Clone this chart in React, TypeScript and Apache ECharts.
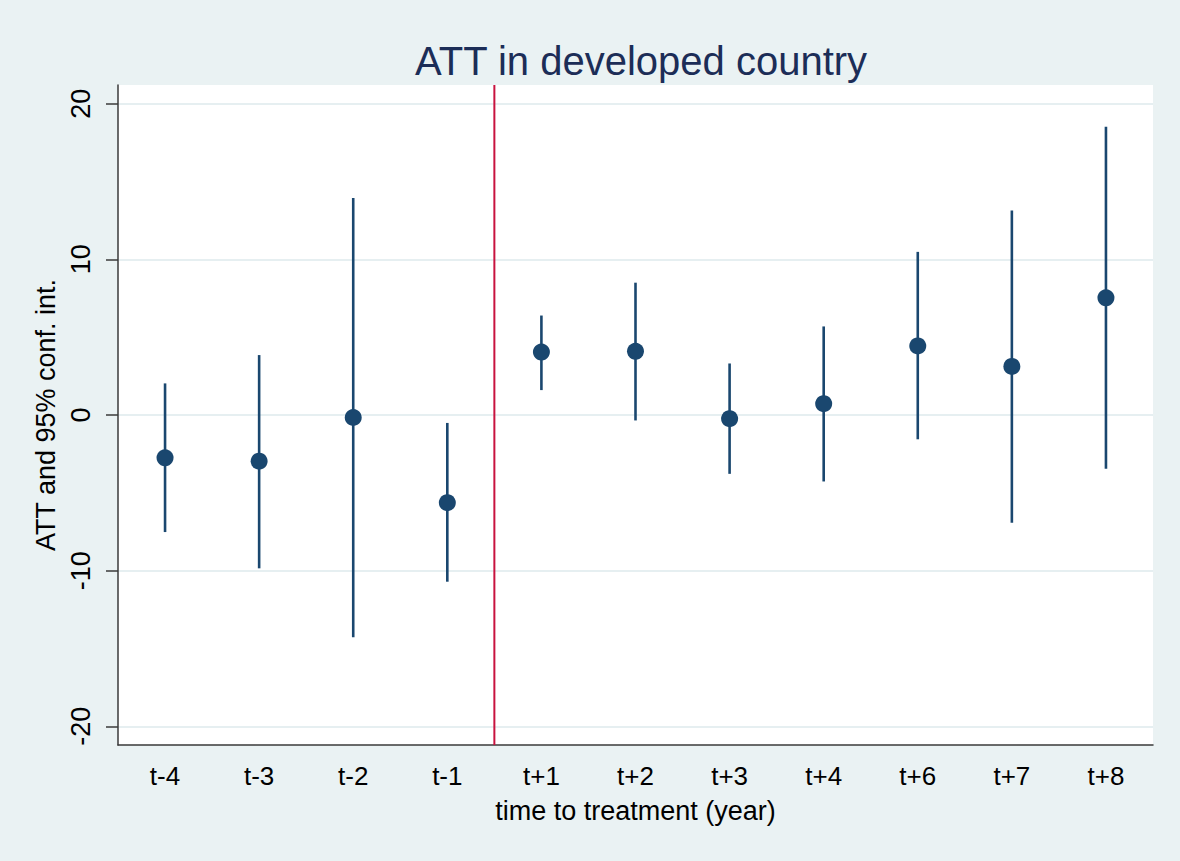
import React, { useEffect, useRef } from "react";
import * as echarts from "echarts";

const categories = ["t-4", "t-3", "t-2", "t-1", "t+1", "t+2", "t+3", "t+4", "t+6", "t+7", "t+8"];
const att = [-2.75, -2.97, -0.16, -5.63, 4.04, 4.09, -0.24, 0.73, 4.44, 3.12, 7.53];
const ciLow = [-7.52, -9.85, -14.28, -10.71, 1.6, -0.35, -3.78, -4.27, -1.56, -6.93, -3.46];
const ciHigh = [2.03, 3.85, 13.94, -0.51, 6.39, 8.5, 3.31, 5.69, 10.48, 13.13, 18.52];
const yTicks = [-20, -10, 0, 10, 20];
const treatmentBetween = ["t-1", "t+1"];

const navy = "#1a476f";
const font = "'Liberation Sans', Arial, Helvetica, sans-serif";

export default function App() {
  const ref = useRef<HTMLDivElement>(null);
  useEffect(() => {
    document.body.style.margin = "0";
    if (!ref.current) return;
    const chart = echarts.init(ref.current, null, { renderer: "svg" });
    const i0 = categories.indexOf(treatmentBetween[0]);
    const i1 = categories.indexOf(treatmentBetween[1]);
    chart.setOption({
      animation: false,
      backgroundColor: "#eaf2f3",
      title: {
        text: "ATT in developed country",
        left: 410,
        top: 36,
        textStyle: { fontFamily: font, fontSize: 40, fontWeight: "normal", color: "#1c2d57" },
      },
      grid: {
        left: 118,
        right: 27,
        top: 85,
        bottom: 116,
        show: true,
        backgroundColor: "#ffffff",
        borderWidth: 0,
      },
      xAxis: {
        type: "category",
        data: categories,
        boundaryGap: true,
        name: "time to treatment (year)",
        nameLocation: "middle",
        nameGap: 52,
        nameTextStyle: { fontFamily: font, fontSize: 27, color: "#000" },
        axisLine: { onZero: false, lineStyle: { color: "#3a3a3a", width: 1.5 } },
        axisTick: { alignWithLabel: true, length: 12, lineStyle: { color: "#3a3a3a", width: 1.5 } },
        axisLabel: { fontFamily: font, fontSize: 26, color: "#000", margin: 18 },
        splitLine: { show: false },
      },
      yAxis: {
        type: "value",
        min: -21.2,
        max: 21.2,
        name: "ATT and 95% conf. int.",
        nameLocation: "middle",
        nameGap: 58,
        nameRotate: 90,
        nameTextStyle: { fontFamily: font, fontSize: 27, color: "#000" },
        axisLine: { show: true, lineStyle: { color: "#3a3a3a", width: 1.5 } },
        axisTick: { show: true, length: 12, customValues: yTicks, lineStyle: { color: "#3a3a3a", width: 1.5 } },
        axisLabel: { fontFamily: font, fontSize: 27, color: "#000", rotate: 90, margin: 24, customValues: yTicks },
        splitLine: { show: true, lineStyle: { color: "#e6eff1", width: 2 } },
      },
      series: [
        {
          type: "custom",
          name: "treatment",
          data: [[i0, i1]],
          encode: { x: [0, 1] },
          clip: false,
          z: 1,
          renderItem: (params: any, api: any) => {
            const a = api.coord([api.value(0), 0])[0];
            const b = api.coord([api.value(1), 0])[0];
            const x = (a + b) / 2;
            const cs = params.coordSys;
            return {
              type: "line",
              shape: { x1: x, y1: cs.y, x2: x, y2: cs.y + cs.height },
              style: { stroke: "#c8133f", lineWidth: 2 },
            };
          },
        },
        {
          type: "custom",
          name: "ci",
          data: categories.map((c, i) => [i, ciLow[i], ciHigh[i]]),
          encode: { x: 0, y: [1, 2] },
          z: 2,
          renderItem: (params: any, api: any) => {
            const p1 = api.coord([api.value(0), api.value(1)]);
            const p2 = api.coord([api.value(0), api.value(2)]);
            return {
              type: "line",
              shape: { x1: p1[0], y1: p1[1], x2: p2[0], y2: p2[1] },
              style: { stroke: navy, lineWidth: 2.6 },
            };
          },
        },
        {
          type: "scatter",
          name: "ATT",
          data: att,
          symbol: "circle",
          symbolSize: 17,
          itemStyle: { color: navy, opacity: 1 },
          z: 3,
        },
      ],
    });
    return () => chart.dispose();
  }, []);
  return <div ref={ref} style={{ width: 1180, height: 861 }} />;
}
